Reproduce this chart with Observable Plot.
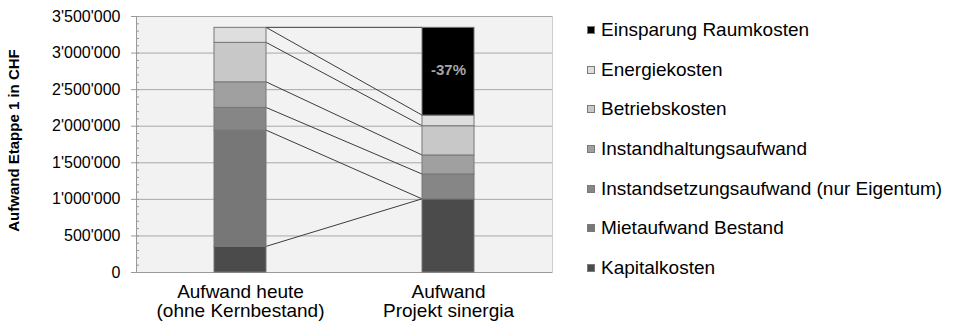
<!DOCTYPE html>
<html><head><meta charset="utf-8">
<script src="https://cdn.jsdelivr.net/npm/d3@7"></script>
<script src="https://cdn.jsdelivr.net/npm/@observablehq/plot@0.6"></script>
<style>
html,body{margin:0;padding:0;background:#fff;}
#wrap{position:relative;width:955px;height:323px;font-family:"Liberation Sans",Arial,sans-serif;}
#wrap svg{position:absolute;left:0;top:0;}
.item{position:absolute;left:587px;height:20px;display:flex;align-items:center;font-size:19px;line-height:20px;color:#000;white-space:nowrap;}
.sw{width:8px;height:8px;box-sizing:border-box;border:1px solid #7a7a7a;margin-right:6px;flex:none;}
</style></head><body><div id="wrap"></div>
<script>
// ---- data ----
const categories = ["Aufwand heute\n(ohne Kernbestand)", "Aufwand\nProjekt sinergia"];
const series = [
  "Kapitalkosten",
  "Mietaufwand Bestand",
  "Instandsetzungsaufwand (nur Eigentum)",
  "Instandhaltungsaufwand",
  "Betriebskosten",
  "Energiekosten",
  "Einsparung Raumkosten"
];
const valuesHeute    = [350000, 1590000, 310000, 350000, 540000, 205000, 0];
const valuesProjekt  = [1000000, 0, 340000, 260000, 400000, 145000, 1200000];
const seriesColors   = ["#4b4b4b", "#777777", "#868686", "#a0a0a0", "#c8c8c8", "#dedede", "#000000"];
const yTicks = [0, 500000, 1000000, 1500000, 2000000, 2500000, 3000000, 3500000];
const minorTicks = d3.range(0, 3500001, 100000);
const savingSeries = "Einsparung Raumkosten";
const savingLabel = "-37%";
const yTitle = "Aufwand Etappe 1 in CHF";

const rows = series.flatMap((s, i) => [
  {category: categories[0], series: s, value: valuesHeute[i]},
  {category: categories[1], series: s, value: valuesProjekt[i]}
]);

const fmt = d3.formatLocale({decimal: ".", thousands: "'", grouping: [3], currency: ["", ""]}).format(",");

function connectors(index, scales, values, dimensions) {
  const x = scales.x, y = scales.y;
  const bw = typeof x.bandwidth === "function" ? x.bandwidth() : scales.scales.x.bandwidth;
  const g = d3.create("svg:g").attr("fill", "none");
  // axis line on the left
  g.append("line")
    .attr("x1", dimensions.marginLeft + 0.5).attr("x2", dimensions.marginLeft + 0.5)
    .attr("y1", dimensions.marginTop).attr("y2", dimensions.height - dimensions.marginBottom)
    .attr("stroke", "#999");
  let c0 = 0, c1 = 0;
  series.forEach((s, i) => {
    c0 += valuesHeute[i]; c1 += valuesProjekt[i];
    g.append("line")
      .attr("x1", x(categories[0]) + bw).attr("y1", y(c0))
      .attr("x2", x(categories[1])).attr("y2", y(c1))
      .attr("stroke", "#3c3c3c").attr("stroke-width", 1);
  });
  return g.node();
}

const chart = Plot.plot({
  width: 955,
  height: 323,
  marginLeft: 136,
  marginRight: 403,
  marginTop: 16,
  marginBottom: 51,
  style: {fontFamily: '"Liberation Sans", Arial, sans-serif', fontSize: "16px", color: "#000", background: "transparent", overflow: "visible"},
  x: {domain: categories, paddingInner: 0.75, paddingOuter: 0.375, axis: null},
  y: {domain: [0, 3500000], label: null},
  color: {domain: series, range: seriesColors},
  marks: [
    Plot.frame({fill: "#f2f2f2", stroke: "#cdcdcd"}),
    Plot.gridY({ticks: yTicks, stroke: "#a8a8a8", strokeOpacity: 1}),
    Plot.ruleY([0], {stroke: "#999"}),
    connectors,
    Plot.barY(rows, {x: "category", y: "value", fill: "series", stroke: "#777", strokeWidth: 1, filter: d => d.value > 0}),
    Plot.text(rows, Plot.stackY({x: "category", y: "value", text: d => d.series === savingSeries && d.value > 0 ? savingLabel : null, fill: "#a6a6a6", fontWeight: "bold", fontSize: 15, dy: -2})),
    Plot.axisY({ticks: yTicks, tickFormat: fmt, tickSize: 5, tickPadding: 11, stroke: "#999", fill: "#000", fontSize: 16, label: null}),
    Plot.axisY({ticks: minorTicks, tickSize: 3, dx: 3, stroke: "#999", fill: "none", label: null}),
    Plot.text(categories, {x: d => d, text: d => d, frameAnchor: "bottom", lineAnchor: "top", dy: 12, fontSize: 19, lineHeight: 1.0, fill: "#000"}),
    Plot.text([yTitle], {text: d => d, frameAnchor: "left", textAnchor: "middle", lineAnchor: "middle", dx: -122, dy: -4, rotate: -90, fontWeight: "bold", fontSize: 15, fill: "#000"})
  ]
});

const wrap = document.getElementById("wrap");
wrap.appendChild(chart);

// legend (HTML), colours taken from the chart's color scale
const colorScale = chart.scale("color");
const legendOrder = colorScale.domain.slice().reverse();
legendOrder.forEach((s, i) => {
  const item = document.createElement("div");
  item.className = "item";
  item.style.top = (20 + i * 39.67) + "px";
  const sw = document.createElement("span");
  sw.className = "sw";
  sw.style.background = colorScale.range[colorScale.domain.indexOf(s)];
  const label = document.createElement("span");
  label.textContent = s;
  item.appendChild(sw);
  item.appendChild(label);
  wrap.appendChild(item);
});
</script>
</body></html>
